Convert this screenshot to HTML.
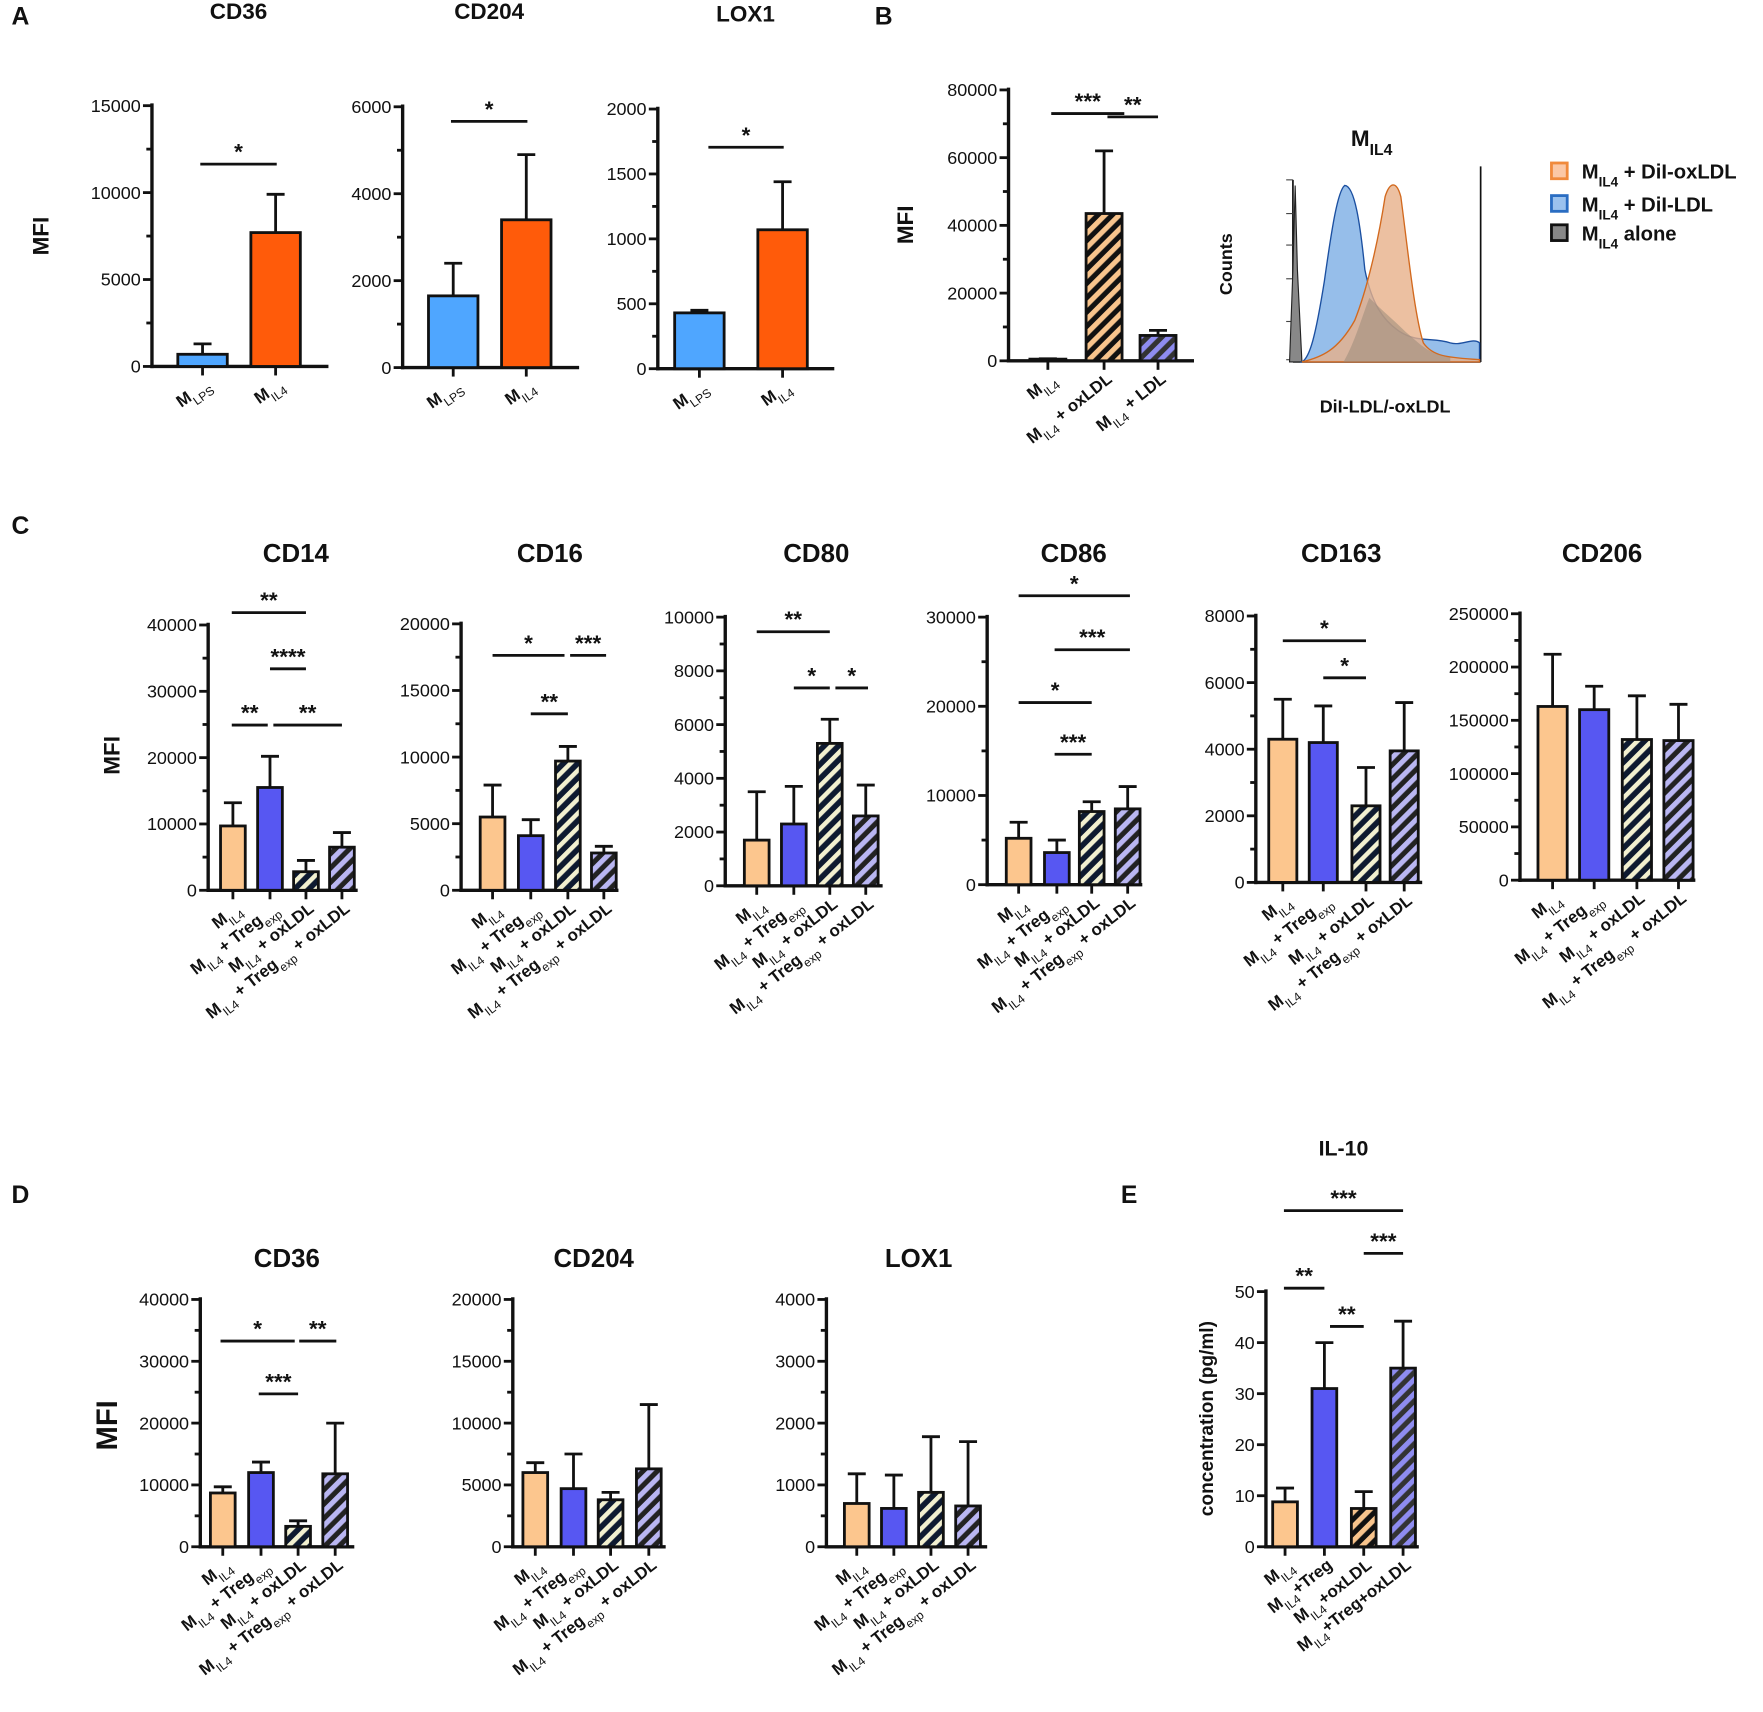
<!DOCTYPE html>
<html><head><meta charset="utf-8">
<style>
html,body{margin:0;padding:0;background:#fff;}
svg{display:block;font-family:"Liberation Sans",Arial,sans-serif;}
</style></head>
<body>
<svg id="fig" width="1763" height="1712" viewBox="0 0 1568 1523" xmlns="http://www.w3.org/2000/svg">
<defs>
<pattern id="hPeach" patternUnits="userSpaceOnUse" width="9" height="9" patternTransform="rotate(45)"><rect width="9" height="9" fill="#111"/><rect width="4.5" height="9" fill="#F8C48C"/></pattern>
<pattern id="hLav" patternUnits="userSpaceOnUse" width="9" height="9" patternTransform="rotate(45)"><rect width="9" height="9" fill="#222"/><rect width="4.5" height="9" fill="#B9B6F2"/></pattern>
<pattern id="hLav2" patternUnits="userSpaceOnUse" width="9" height="9" patternTransform="rotate(45)"><rect width="9" height="9" fill="#333"/><rect width="4.5" height="9" fill="#8E8CF0"/></pattern>
<pattern id="hYel" patternUnits="userSpaceOnUse" width="9" height="9" patternTransform="rotate(45)"><rect width="9" height="9" fill="#0e1a30"/><rect width="4" height="9" fill="#F2F0D0"/></pattern>
</defs>
<g id="root"></g>
</svg>
<script>
// ---------- data ----------
const aCats = ["MLPS","MIL4"];
const aCD36 = [700, 7700], aCD36Err = [1300, 9900];
const aCD204 = [1650, 3400], aCD204Err = [2400, 4900];
const aLOX1 = [430, 1070], aLOX1Err = [450, 1440];
const bCats = ["MIL4","MIL4 + oxLDL","MIL4 + LDL"];
const bVals = [500, 43500, 7500], bErr = [600, 62000, 9000];
const cCats = ["MIL4","MIL4 + Tregexp","MIL4 + oxLDL","MIL4 + Tregexp + oxLDL"];
const cCD14 = [9700, 15500, 2800, 6500], cCD14Err = [13200, 20200, 4500, 8700];
const cCD16 = [5500, 4100, 9700, 2800], cCD16Err = [7900, 5300, 10800, 3300];
const cCD80 = [1700, 2300, 5300, 2600], cCD80Err = [3500, 3700, 6200, 3750];
const cCD86 = [5200, 3600, 8200, 8500], cCD86Err = [7000, 5000, 9300, 11000];
const cCD163 = [4300, 4200, 2300, 3950], cCD163Err = [5500, 5300, 3450, 5400];
const cCD206 = [163000, 160000, 132000, 131000], cCD206Err = [212000, 182000, 173000, 165000];
const dCD36 = [8700, 12000, 3300, 11800], dCD36Err = [9700, 13700, 4200, 20000];
const dCD204 = [6000, 4700, 3800, 6300], dCD204Err = [6800, 7500, 4400, 11500];
const dLOX1 = [700, 620, 880, 660], dLOX1Err = [1180, 1160, 1780, 1700];
const eCats = ["MIL4","MIL4+Treg","MIL4+oxLDL","MIL4+Treg+oxLDL"];
const eVals = [8.8, 31, 7.5, 35], eErr = [11.5, 40, 10.8, 44.2];

const NS="http://www.w3.org/2000/svg";
const root=document.getElementById('root');
function el(tag,attrs,parent,txt){const e=document.createElementNS(NS,tag);for(const k in attrs)e.setAttribute(k,attrs[k]);if(txt!==undefined)e.textContent=txt;(parent||root).appendChild(e);return e;}
function txt(x,y,s,size,anchor,weight,parent){const t=el('text',{x:x,y:y,'font-size':size,'text-anchor':anchor||'middle','font-weight':weight||'bold',fill:'#111'},parent,s);return t;}

// rich label with subscripts: "MIL4" -> M + sub IL4; "Tregexp" -> Treg + sub exp; "MLPS" -> M + sub LPS
function richLabel(g,label,size){
  const t=el('text',{'font-size':size,'font-weight':'bold','text-anchor':'end',fill:'#111'},g);
  const re=/(M)(IL4|LPS)|(Treg)(exp)/g;let last=0,m;
  const add=(s,sub)=>{if(!s)return;const ts=el('tspan',sub?{'font-size':size*0.72,'font-weight':'normal','baseline-shift':'sub'}:{},t,s);};
  while((m=re.exec(label))){add(label.slice(last,m.index),false);if(m[1]){add('M',false);add(m[2],true);}else{add('Treg',false);add('exp',true);}last=re.lastIndex;}
  add(label.slice(last),false);return t;
}

function barPanel(o){
  const g=el('g',{},root);
  
  
  const yS=v=>o.y0-(v/o.ymax)*(o.y0-o.ytop);
  // axis
  el('line',{x1:o.ax,y1:o.ytop-2,x2:o.ax,y2:o.y0+1.5,stroke:'#111','stroke-width':3},g);
  el('line',{x1:o.ax-1.5,y1:o.y0,x2:o.axEnd,y2:o.y0,stroke:'#111','stroke-width':3},g);
  o.ticks.forEach((t,i)=>{const y=yS(t);
    el('line',{x1:o.ax-8,y1:y,x2:o.ax,y2:y,stroke:'#111','stroke-width':2.5},g);
    const tl=txt(o.ax-10,y+5.5,String(t),o.tfs||16,'end','normal',g);
    
    if(i<o.ticks.length-1&&o.minor!==false){const ym=yS((t+o.ticks[i+1])/2);el('line',{x1:o.ax-5,y1:ym,x2:o.ax,y2:ym,stroke:'#111','stroke-width':2.5},g);}
  });
  // bars
  o.vals.forEach((v,i)=>{
    const cx=o.cx[i],w=o.bw,y=yS(v),ye=yS(o.err[i]);
    el('line',{x1:cx,y1:ye,x2:cx,y2:y,stroke:'#111','stroke-width':2.5},g);
    el('line',{x1:cx-8,y1:ye,x2:cx+8,y2:ye,stroke:'#111','stroke-width':2.5},g);
    const r=el('rect',{x:cx-w/2,y:y,width:w,height:Math.max(0.5,o.y0-y),fill:o.fills[i],stroke:'#111','stroke-width':2.5},g);
    
    
    el('line',{x1:cx,y1:o.y0,x2:cx,y2:o.y0+8,stroke:'#111','stroke-width':2.5},g);
    const lg=el('g',{transform:`translate(${cx+8},${o.y0+18}) rotate(${o.rot||-38})`},g);
    const lt=richLabel(lg,o.cats[i],o.lfs||15);
    
  });
  if(o.title){const t=txt(o.tx,o.ty,o.title,o.tsz||23,'middle','bold',g);}
  (o.sig||[]).forEach(s=>{
    el('line',{x1:s[0],y1:s[2],x2:s[1],y2:s[2],stroke:'#111','stroke-width':2.5},g);
    txt((s[0]+s[1])/2,s[2]-4,s[3],20,'middle','bold',g);
  });
  return g;
}
const ORG='#FF5B0A',LB='#4FA6FF',PE='#FCC68E',BL='#5757F2';
const cF=[PE,BL,'url(#hYel)','url(#hLav)'];
// Panel A
barPanel({name:'cd36-a-chart',cats:aCats,vals:aCD36,err:aCD36Err,ax:135,axEnd:292,y0:326,ytop:94,ymax:15000,ticks:[0,5000,10000,15000],cx:[180,245],bw:44,fills:[LB,ORG],title:'CD36',tx:212,ty:17,tsz:20,sig:[[178,246,146,'*']],rot:-35});
barPanel({name:'cd204-a-chart',cats:aCats,vals:aCD204,err:aCD204Err,ax:358,axEnd:515,y0:327,ytop:95,ymax:6000,ticks:[0,2000,4000,6000],cx:[403,468],bw:44,fills:[LB,ORG],title:'CD204',tx:435,ty:17,tsz:20,sig:[[401,469,108,'*']],rot:-35});
barPanel({name:'lox1-a-chart',cats:aCats,vals:aLOX1,err:aLOX1Err,ax:585,axEnd:742,y0:328,ytop:97,ymax:2000,ticks:[0,500,1000,1500,2000],cx:[622,696],bw:44,fills:[LB,ORG],title:'LOX1',tx:663,ty:19,tsz:20,sig:[[630,697,131,'*']],rot:-35});
// Panel B
barPanel({name:'uptake-b-chart',cats:bCats,vals:bVals,err:bErr,ax:897,axEnd:1062,y0:321,ytop:80,ymax:80000,ticks:[0,20000,40000,60000,80000],cx:[932,982,1030],bw:32,fills:['#eee','url(#hPeach)','url(#hLav2)'],sig:[[935,1000,101,'***'],[985,1030,104,'**']],rot:-38});
// Panel C
const cTicks=[[0,10000,20000,30000,40000],[0,5000,10000,15000,20000],[0,2000,4000,6000,8000,10000],[0,10000,20000,30000],[0,2000,4000,6000,8000],[0,50000,100000,150000,200000,250000]];
barPanel({name:'cd14-chart',cats:cCats,vals:cCD14,err:cCD14Err,ax:185,axEnd:318,y0:792,ytop:556,ymax:40000,ticks:cTicks[0],cx:[207,240,272,304],bw:22,fills:cF,title:'CD14',tx:263,ty:500,sig:[[206,272,545,'**'],[240,272,595,'****'],[206,238,645,'**'],[243,304,645,'**']]});
barPanel({name:'cd16-chart',cats:cCats,vals:cCD16,err:cCD16Err,ax:410,axEnd:550,y0:792,ytop:555,ymax:20000,ticks:cTicks[1],cx:[438,472,505,537],bw:22,fills:cF,title:'CD16',tx:489,ty:500,sig:[[438,502,583,'*'],[507,539,583,'***'],[472,505,635,'**']]});
barPanel({name:'cd80-chart',cats:cCats,vals:cCD80,err:cCD80Err,ax:645,axEnd:785,y0:788,ytop:549,ymax:10000,ticks:cTicks[2],cx:[673,706,738,770],bw:22,fills:cF,title:'CD80',tx:726,ty:500,sig:[[673,738,562,'**'],[706,738,612,'*'],[743,772,612,'*']]});
barPanel({name:'cd86-chart',cats:cCats,vals:cCD86,err:cCD86Err,ax:878,axEnd:1016,y0:787,ytop:549,ymax:30000,ticks:cTicks[3],cx:[906,940,971,1003],bw:22,fills:cF,title:'CD86',tx:955,ty:500,sig:[[906,1005,530,'*'],[938,1005,578,'***'],[906,971,625,'*'],[938,971,671,'***']]});
barPanel({name:'cd163-chart',cats:cCats,vals:cCD163,err:cCD163Err,ax:1117,axEnd:1265,y0:785,ytop:548,ymax:8000,ticks:cTicks[4],cx:[1141,1177,1215,1249],bw:25,fills:cF,title:'CD163',tx:1193,ty:500,sig:[[1141,1215,570,'*'],[1177,1215,603,'*']]});
barPanel({name:'cd206-chart',cats:cCats,vals:cCD206,err:cCD206Err,ax:1352,axEnd:1508,y0:783,ytop:546,ymax:250000,ticks:cTicks[5],cx:[1381,1418,1456,1493],bw:26,fills:cF,title:'CD206',tx:1425,ty:500});
// Panel D
barPanel({name:'cd36-d-chart',cats:cCats,vals:dCD36,err:dCD36Err,ax:178,axEnd:315,y0:1376,ytop:1156,ymax:40000,ticks:[0,10000,20000,30000,40000],cx:[198,232,265,298],bw:22,fills:cF,title:'CD36',tx:255,ty:1127,sig:[[196,262,1193,'*'],[266,299,1193,'**'],[230,265,1240,'***']]});
barPanel({name:'cd204-d-chart',cats:cCats,vals:dCD204,err:dCD204Err,ax:456,axEnd:592,y0:1376,ytop:1156,ymax:20000,ticks:[0,5000,10000,15000,20000],cx:[476,510,543,577],bw:22,fills:cF,title:'CD204',tx:528,ty:1127});
barPanel({name:'lox1-d-chart',cats:cCats,vals:dLOX1,err:dLOX1Err,ax:735,axEnd:878,y0:1376,ytop:1156,ymax:4000,ticks:[0,1000,2000,3000,4000],cx:[762,795,828,861],bw:22,fills:cF,title:'LOX1',tx:817,ty:1127});
// Panel E
barPanel({name:'il10-chart',cats:eCats,vals:eVals,err:eErr,ax:1126,axEnd:1262,y0:1376,ytop:1149,ymax:50,ticks:[0,10,20,30,40,50],cx:[1143,1178,1213,1248],bw:22,fills:[PE,BL,'url(#hPeach)','url(#hLav2)'],title:'IL-10',tx:1195,ty:1028,tsz:19,minor:false,sig:[[1142,1248,1077,'***'],[1213,1248,1115,'***'],[1142,1178,1146,'**'],[1183,1213,1180,'**']]});

// y-axis titles & panel letters
function rotTxt(x,y,s,size,name){const t=el('text',{x:0,y:0,transform:`translate(${x},${y}) rotate(-90)`,'font-size':size,'font-weight':'bold','text-anchor':'middle',fill:'#111'},root,s);}
rotTxt(43,210,'MFI',20,'y-axis-title-a');
rotTxt(812,200,'MFI',20,'y-axis-title-b');
rotTxt(106,672,'MFI',20,'y-axis-title-c');
rotTxt(104,1268,'MFI',26,'y-axis-title-d');
rotTxt(1079,1262,'concentration (pg/ml)',17,'y-axis-title-e');
[['A',10,22],['B',778,22],['C',10,475],['D',10,1070],['E',997,1070]].forEach(p=>{const t=txt(p[1],p[2],p[0],22,'start','bold');});

// Histogram panel B
const hg=el('g',{},root);


el('path',{d:'M1150,322 L1150,160 M1150,322 L1317,322 M1317,322 L1317,148',stroke:'#111','stroke-width':1.5,fill:'none'},hg);
[160,190,218,248,286,320].forEach((y,i)=>{el('line',{x1:1144,y1:y,x2:1150,y2:y,stroke:'#444','stroke-width':1},hg);});
el('path',{d:'M1147,322 L1150,240 L1152,165 L1154,240 L1158,322 Z',fill:'#888',stroke:'#222','stroke-width':1},hg);
el('path',{d:'M1158,322 C1165,318 1170,300 1178,250 C1185,200 1190,170 1196,165 C1205,165 1210,200 1214,240 C1220,270 1230,285 1245,295 C1260,305 1275,300 1290,305 C1300,308 1310,300 1316,305 L1316,322 Z',fill:'#8BB7E8',stroke:'#1b4fa0','stroke-width':1.2,'fill-opacity':0.9},hg);
el('path',{d:'M1158,322 C1175,318 1190,312 1205,285 C1215,260 1225,220 1232,175 C1236,162 1242,160 1246,175 C1252,220 1258,280 1266,305 C1275,318 1290,318 1316,320 L1316,322 Z',fill:'#E7B08A',stroke:'#d2691e','stroke-width':1.2,'fill-opacity':0.8},hg);
el('path',{d:'M1195,322 C1205,305 1212,280 1218,265 C1228,275 1240,285 1250,295 C1262,305 1270,315 1290,318 L1290,322 Z',fill:'#9a8a7a','fill-opacity':0.55},hg);
const ht=el('text',{x:1220,y:130,'font-size':20,'font-weight':'bold','text-anchor':'middle',fill:'#111'},hg);
el('tspan',{},ht,'M');el('tspan',{'font-size':14,'baseline-shift':'sub'},ht,'IL4');
rotTxt(1096,235,'Counts',16,'histogram-y-title');
const hx=txt(1232,367,'DiI-LDL/-oxLDL',16,'middle','bold',hg);
// legend
[['#F08A3C','#FBC8A6',' + DiI-oxLDL',153],['#2A6DC2','#9BC2EE',' + DiI-LDL',182],['#111','#888',' alone',208]].forEach((l,i)=>{
  const lg=el('g',{},root);
  
  
  el('rect',{x:1380,y:l[3]-8,width:14,height:14,fill:l[1],stroke:l[0],'stroke-width':2.5},lg);
  const t=el('text',{x:1407,y:l[3]+6,'font-size':18,'font-weight':'bold',fill:'#111'},lg);
  el('tspan',{},t,'M');el('tspan',{'font-size':12,'baseline-shift':'sub'},t,'IL4');el('tspan',{},t,l[2]);
});
</script>
</body></html>
